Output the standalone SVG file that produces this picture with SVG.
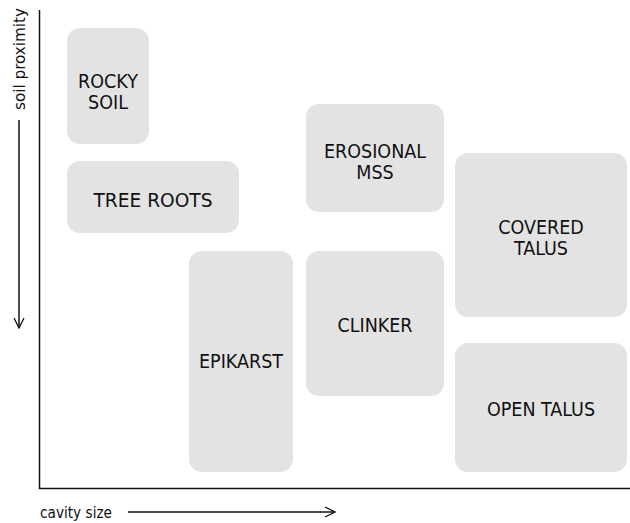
<svg xmlns="http://www.w3.org/2000/svg" width="630" height="523" viewBox="0 0 630 523">
<style>
.box{fill:#e3e3e3}
.lbl{font-family:"DejaVu Sans Condensed","Liberation Sans",sans-serif;font-stretch:condensed;font-size:19.5px;fill:#111;text-anchor:middle}
.ax{font-family:"DejaVu Sans Condensed","Liberation Sans",sans-serif;font-stretch:condensed;font-size:16.5px;fill:#111}
.line{stroke:#111;stroke-width:1.5;fill:none}
</style>
<defs>
<marker id="arr" viewBox="0 0 12 12" refX="11" refY="6" markerWidth="12" markerHeight="12" markerUnits="userSpaceOnUse" orient="auto">
<path d="M1,1 L11,6 L1,11" fill="none" stroke="#111" stroke-width="1.3"/>
</marker>
</defs>
<rect width="630" height="523" fill="#fff"/>
<g id="axes">
<path class="line" d="M39.5,10 V488.5 H630"/>
</g>
<g id="connectors">
<line class="line" x1="19" y1="120" x2="19" y2="328" marker-end="url(#arr)"/>
<line class="line" x1="128" y1="512" x2="335" y2="512" marker-end="url(#arr)"/>
</g>
<g id="axis-labels">
<text class="ax" transform="translate(25,110) rotate(-90)" textLength="102" lengthAdjust="spacingAndGlyphs">soil proximity</text>
<text class="ax" x="40" y="518" textLength="72" lengthAdjust="spacingAndGlyphs">cavity size</text>
</g>
<g id="rocky-soil"><rect class="box" x="67" y="28" width="82" height="116" rx="13"/><text class="lbl" x="108" y="87.5">ROCKY</text><text class="lbl" x="108" y="109">SOIL</text></g>
<g id="tree-roots"><rect class="box" x="67" y="161" width="172" height="72" rx="13"/><text class="lbl" x="153" y="207" textLength="119" lengthAdjust="spacingAndGlyphs">TREE ROOTS</text></g>
<g id="epikarst"><rect class="box" x="189" y="251" width="104" height="221" rx="13"/><text class="lbl" x="241" y="368">EPIKARST</text></g>
<g id="erosional-mss"><rect class="box" x="306" y="104" width="138" height="108" rx="13"/><text class="lbl" x="375" y="157.5">EROSIONAL</text><text class="lbl" x="375" y="179">MSS</text></g>
<g id="clinker"><rect class="box" x="306" y="251" width="138" height="145" rx="13"/><text class="lbl" x="375" y="332">CLINKER</text></g>
<g id="covered-talus"><rect class="box" x="455" y="153" width="172" height="164" rx="13"/><text class="lbl" x="541" y="233.5">COVERED</text><text class="lbl" x="541" y="255">TALUS</text></g>
<g id="open-talus"><rect class="box" x="455" y="343" width="172" height="129" rx="13"/><text class="lbl" x="541" y="416">OPEN TALUS</text></g>
</svg>
